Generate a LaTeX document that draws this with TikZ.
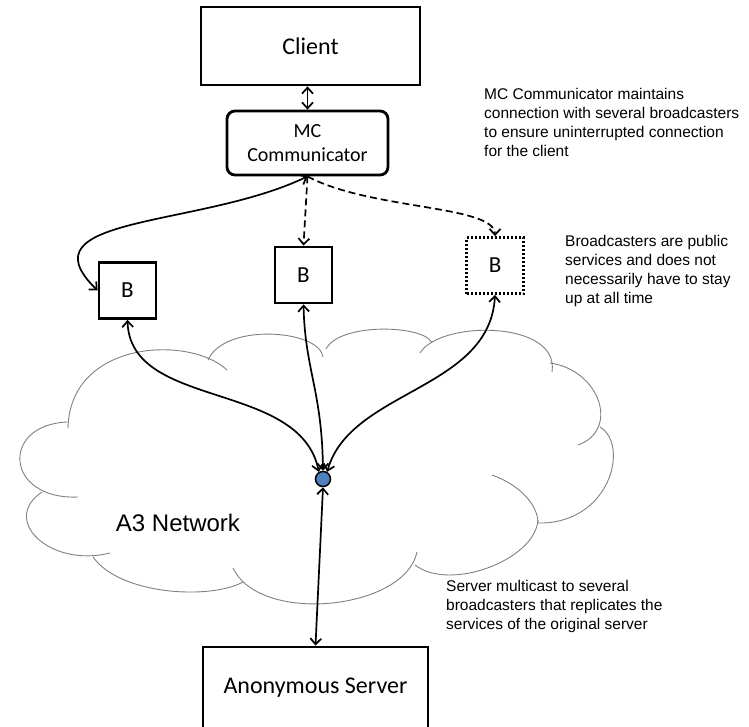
\documentclass[tikz,border=0pt]{standalone}
\usepackage{fontspec}
\setmainfont{Carlito}
\newfontfamily\notefont{Liberation Sans}
\usetikzlibrary{arrows.meta}

\definecolor{dotblue}{HTML}{4F81BD}
\definecolor{cloudgray}{HTML}{808080}

\tikzset{
  box/.style={draw, line width=2.8pt, inner sep=0pt, font=\fontsize{24}{29}\selectfont},
  bnode/.style={draw, line width=2.8pt, minimum width=57pt, minimum height=56pt, inner sep=0pt, font=\fontsize{23}{27}\selectfont},
  note/.style={anchor=north west, inner sep=0pt, align=left, font=\notefont\fontsize{15.5}{19}\selectfont},
  link/.style={line width=1.7pt},
  cloudline/.style={draw=cloudgray, line width=0.9pt}
}

\begin{document}
\begin{tikzpicture}[x=1pt, y=-1pt, >={Straight Barb[length=6pt,width=11pt]}]
\useasboundingbox (0,0) rectangle (749,726);

% cloud
\draw[cloudline] (68,428) .. controls (70,340) and (190,335) .. (227,370);
\draw[cloudline] (208,360) .. controls (225,322) and (320,330) .. (323,357);
\draw[cloudline] (326,349) .. controls (340,322) and (425,325) .. (432,343);
\draw[cloudline] (420,353) .. controls (440,320) and (560,320) .. (552,372);
\draw[cloudline] (550,363) .. controls (600,370) and (620,430) .. (578,445);
\draw[cloudline] (600,427) .. controls (630,445) and (610,525) .. (537,523);
\draw[cloudline] (492,475) .. controls (520,485) and (538,505) .. (538,523);
\draw[cloudline] (538,520) .. controls (535,560) and (450,592) .. (415,565);
\draw[cloudline] (417,552) .. controls (405,610) and (260,625) .. (233,568);
\draw[cloudline] (243,582) .. controls (210,600) and (120,595) .. (93,557);
\draw[cloudline] (110,553) .. controls (50,568) and (0,520) .. (42,492);
\draw[cloudline] (78,497) .. controls (5,500) and (0,425) .. (67,422);

\path
(310.5,46) node[box, minimum width=219pt, minimum height=78pt] (client) {Client}
(307.5,143) node[box, rounded corners=8pt, minimum width=161pt, minimum height=64pt, align=center, font=\fontsize{20}{24}\selectfont] (mc) {MC\\Communicator}
(127.5,290.5) node[bnode] (b1) {B}
(303.5,275) node[bnode] (b2) {B}
(495,265.5) node[bnode, dash pattern=on 2pt off 2pt] (b3) {B}
(323,479) node[circle, draw, fill=dotblue, line width=1.5pt, minimum size=15pt, inner sep=0pt] (hub) {}
(315.5,688) node[box, minimum width=225pt, minimum height=82pt] (server) {Anonymous Server};

\path
(484,88) node[note] (mcnote) {MC Communicator maintains\\connection with several broadcasters\\to ensure uninterrupted connection\\for the client}
(565,235) node[note] (bnote) {Broadcasters are public\\services and does not\\necessarily have to stay\\up at all time}
(446,580) node[note] (srvnote) {Server multicast to several\\broadcasters that replicates the\\services of the original server}
(178,523) node[font=\notefont\fontsize{24}{29}\selectfont] (net) {A3 Network};

\draw[<->, link] (mc.north |- client.south) -- (mc.north);
\draw[<->, link] (mc.south) .. controls (200,228) and (20,215) .. (b1.west);
\draw[->, link, dash pattern=on 7pt off 4pt] (mc.south) -- (b2.north);
\draw[->, link, dash pattern=on 7pt off 4pt] (mc.south) .. controls (370,210) and (495,205) .. (b3.north);
%\draw[<->, link] (b1) edge (hub);
\draw[<->, link] (b1.south) .. controls (130,410) and (300,380) .. (hub.120);
\draw[<->, link] (b2.south) .. controls (305,370) and (322,390) .. (hub.north);
\draw[<->, link] (b3.south) .. controls (490,390) and (350,390) .. (hub.60);
\draw[<->, link] (hub.south) -- (server.north);
\end{tikzpicture}
\end{document}
